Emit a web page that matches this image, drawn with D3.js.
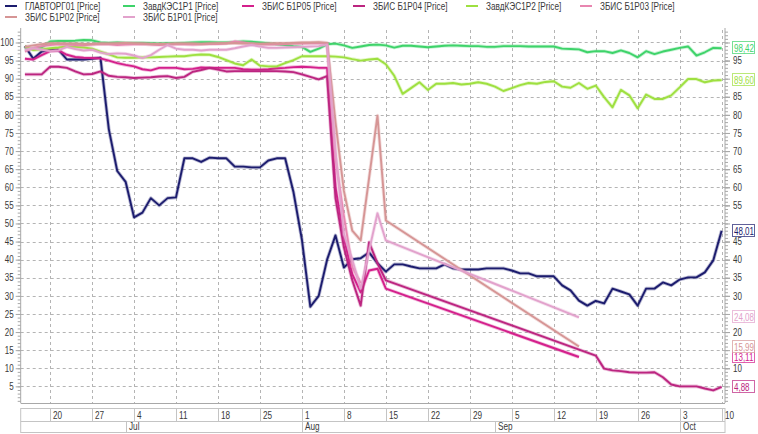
<!DOCTYPE html>
<html><head><meta charset="utf-8">
<script src="https://cdn.jsdelivr.net/npm/d3@7"></script>
<style>body{margin:0;background:#fff}svg{display:block;font-family:"Liberation Sans",Arial,sans-serif}</style>
</head><body><svg id="c" width="758" height="434"></svg>
<script>
// ---- categories: trading days (weekdays) ----
const firstDay = new Date(2022, 5, 15), lastDay = new Date(2022, 9, 10);
const days = d3.timeDay.range(firstDay, d3.timeDay.offset(lastDay, 1)).filter(d => d.getDay() % 6 !== 0);

// ---- series ----
const seriesNames = ["ГЛАВТОРГ01 [Price]", "ЗавдКЭС1Р1 [Price]", "ЗБИС Б1Р05 [Price]", "ЗБИС Б1Р04 [Price]",
  "ЗавдКЭС1Р2 [Price]", "ЗБИС Б1Р03 [Price]", "ЗБИС Б1Р02 [Price]", "ЗБИС Б1Р01 [Price]"];
const seriesColors = ["#1c1c6e", "#3ed36a", "#d4208c", "#bc2580", "#9ee040", "#e886b0", "#d69595", "#e2a2cc"];
const n = null;
const glavtorg01 = [99,95.5,97.5,98,98,95.3,95.3,95.3,95.5,95.8, 76,64.5,61.5,51.7,53,57,55,57,57.2,68,
  68,67,68.2,68,68,65.7,65.7,65.5,65.5,67.4, 68,68,58.6,45.5,27,30,40,46.7,37.8,40.1,
  40.4,42,39,36.7,38.7,38.7,38.1,37.6,37.6,37.6, 38.7,37.6,37.3,37.3,37.3,37.6,37.6,37.6,37,36.2,
  36.2,35.4,35.4,35.4,32.9,31.5,28.7,27.3,28.6,27.9, 32,31.2,30.4,27.3,32,32,33.7,32.9,34.5,35.1,
  35.1,36.5,39.8,48.01];
const zavdKES1R1 = [98.2,98.3,98.6,100.3,100.4,100.4,100.5,100.7,100.6,100, 99.9,100,99.9,99.9,99.9,99.8,99.7,99.8,99.8,99.9,
  100,100.1,100.1,100,100,100.1,100.3,100.2,100,99.8, 99.5,99.3,99,98.8,97.4,98.3,99.5,99.7,99.2,98.5,
  98.9,99.3,99.4,99.2,98.6,99.1,99.1,98.9,98.7,98.9, 99.1,99.2,99.1,99,99,98.8,98.8,99,99,99,
  98.9,98.9,98.9,98.9,98.3,98.2,98.1,97.3,97.6,97.6, 97.1,97.8,97.1,95.9,97.6,96.8,97.5,98,98.5,98.9,
  96.4,97.3,98.5,98.42];
const bis1R05 = [95.5,95.3,96.5,97.6,97.8,96.6,96,95.8,95.7,95.6, 95,94.3,93.8,93.4,92.6,92.3,93,93,93,92.6,
  92.7,93.1,93,93,93,93,92.6,92.5,92.5,92.6, 92.9,93,93.2,93.3,93.2,93,93,60,46,36,
  31,37,37.5,32,n,n,n,n,n,n, n,n,n,n,n,n,n,n,n,n,
  n,n,n,n,n,n,13.11,n,n,n, n,n,n,n,n,n,n,n,n,n,
  n,n,n,n];
const bis1R04 = [91.2,91.2,91.2,93.3,93.3,93,92,91.2,91.3,92, 90.8,90.5,90.4,90.2,90.3,90.4,90.6,90.7,90.2,90.5,
  91.9,92.4,93,92.5,92,92.1,92.1,92.1,92.1,92.1, 92.1,92,91.8,91.2,90.5,89.8,90.7,57,43.4,34.3,
  27.3,44.8,39,34.3,n,n,n,n,n,n, n,n,n,n,n,n,n,n,n,n,
  n,n,n,n,n,n,n,n,13.5,9.9, 9.4,9.2,8.9,8.8,8.8,8.9,7.5,5.5,5,5,
  5,4.4,3.9,4.88];
const zavdKES1R2 = [98.9,97.9,98.1,98.4,98.6,98.9,98.8,98.6,98.3,97.5, 96.7,95.9,95.8,95.8,95.9,95.9,96,96.1,96.2,96.2,
  96.5,96.7,96.6,96,95.1,94.2,93.7,95.3,93.6,93.4, 93.4,94.3,95.1,96.2,96.2,96.2,96.2,96.1,95.9,95.4,
  95,95.3,95.5,94,90.8,85.8,87.4,89,86.9,88.6, 88.6,88.8,88.4,88.6,89,88.6,87.8,86.6,87.4,88.2,
  88.8,88.6,89.1,89.3,87.8,87.5,88.8,87.2,88.1,84.9, 82.1,86.9,85.4,81.8,85.6,84.4,84.4,85.4,87.6,89.9,
  89.9,89,89.5,89.6];
const bis1R03 = [97.5,98.5,99,99.3,99.5,99.4,99.3,99.2,99.4,99.6, 99.5,99.3,99.4,99.5,99.6,99.4,99.3,99.4,99.5,99.5,
  99.4,99.5,99.6,99.6,99.7,100.3,100,99.6,99.5,99.4, 99.5,99.6,99.7,99.7,99.8,99.8,99.7,68,52,38,
  33.5,n,n,n,n,n,n,n,n,n, n,n,n,n,n,n,n,n,n,n,
  n,n,n,n,n,n,n,n,n,n, n,n,n,n,n,n,n,n,n,n,
  n,n,n,n];
const bis1R02 = [98.8,99.2,99.5,99.8,99.8,99.7,99.7,99.6,99.6,99.7, 99.7,99.8,99.9,99.8,99.7,99.6,99.6,99.6,99.7,99.7,
  99.7,99.6,99.7,99.8,99.8,99.8,99.7,99.7,99.6,99.7, 99.8,99.8,99.9,100,100,100.1,99.9,78,59,48,
  45.3,62.5,79.8,50.8,n,n,n,n,n,n, n,n,n,n,n,n,n,n,n,n,
  n,n,n,n,n,n,15.99,n,n,n, n,n,n,n,n,n,n,n,n,n,
  n,n,n,n];
const bis1R01 = [98,98.4,98,97.6,97.8,98.8,98.2,97.8,98,97.2, 96.8,97,96.9,96.4,95.7,96.5,98,99.3,98.3,98,
  98,97.8,98,98,98,98.4,98.9,99.3,98.9,98.5, 98.5,98.6,98.7,98.8,98.9,99,99.4,70,47,40,
  32,42.5,52.8,45.3,n,n,n,n,n,n, n,n,n,n,n,n,n,n,n,n,
  n,n,n,n,n,n,24.08,n,n,n, n,n,n,n,n,n,n,n,n,n,
  n,n,n,n];
const seriesValues = [glavtorg01, zavdKES1R1, bis1R05, bis1R04, zavdKES1R2, bis1R03, bis1R02, bis1R01];
const yTicks = d3.range(5, 101, 5);

// ---- layout ----
const svg = d3.select("#c");
const L = 20.7, R = 725, T = 30, B = 403;
const x = d3.scaleLinear().domain([-0.5, 83.4]).range([L, R]);
const y = d3.scaleLinear().domain([0.4, 103.45]).range([B, T]);
const txt = "#3a3a3a", axisCol = "#a8a8a8", gridCol = "#b4b4b4";

function condense(sel, f) {
  sel.each(function () {
    const w = this.getComputedTextLength();
    if (w > 0) { this.setAttribute("textLength", (w * f).toFixed(2)); this.setAttribute("lengthAdjust", "spacingAndGlyphs"); }
  });
}

// last values (for right-axis value boxes)
const lastVals = seriesValues.map((vals, k) => {
  const lastI = d3.max(vals.map((v, i) => v != null ? i : -1));
  return { k, i: lastI, v: vals[lastI] };
}).filter(d => d.i >= 60);

// grid
const weekIdx = days.map((d, i) => i).filter(i => days[i].getDay() === 1);
svg.append("g").selectAll("line").data(yTicks).join("line")
  .attr("x1", L).attr("x2", R).attr("y1", d => Math.round(y(d)) + 0.5).attr("y2", d => Math.round(y(d)) + 0.5)
  .attr("stroke", gridCol).attr("stroke-dasharray", "3,3");
svg.append("g").selectAll("line").data(weekIdx).join("line")
  .attr("x1", i => Math.round(x(i)) + 0.5).attr("x2", i => Math.round(x(i)) + 0.5).attr("y1", T).attr("y2", B)
  .attr("stroke", gridCol).attr("stroke-dasharray", "3,3");

// axes lines
svg.append("line").attr("x1", L).attr("x2", L).attr("y1", T - 2).attr("y2", B).attr("stroke", axisCol);
svg.append("line").attr("x1", R).attr("x2", R).attr("y1", T - 2).attr("y2", B).attr("stroke", axisCol);
svg.append("line").attr("x1", L).attr("x2", R).attr("y1", B + 0.5).attr("y2", B + 0.5).attr("stroke", axisCol);

// left & right axes via d3 axes (right labels hidden under value boxes are left out)
const rightTicks = yTicks.filter(t => d3.min(lastVals, d => Math.abs(y(t) - y(d.v))) >= 9);
const minor = d3.range(1, 104, 1);
const leftMinor = d3.axisLeft(y).tickValues(minor).tickSize(3).tickFormat("");
const rightMinor = d3.axisRight(y).tickValues(minor).tickSize(3).tickFormat("");
const leftAx = d3.axisLeft(y).tickValues(yTicks).tickSize(5).tickPadding(2).tickFormat(d3.format("d"));
const rightAxT = d3.axisRight(y).tickValues(yTicks).tickSize(5).tickFormat("");
const rightAx = d3.axisRight(y).tickValues(rightTicks).tickSize(5).tickPadding(3).tickFormat(d3.format("d"));
[[leftMinor, L], [rightMinor, R], [leftAx, L], [rightAxT, R], [rightAx, R]].forEach(([ax, px]) => {
  const g = svg.append("g").attr("transform", `translate(${px},0)`).call(ax);
  g.select(".domain").remove();
  g.selectAll("line").attr("stroke", axisCol);
  g.selectAll("text").attr("fill", txt).style("font-size", "10px").attr("font-family", "Liberation Sans, Arial, sans-serif");
  condense(g.selectAll("text"), 0.8);
});

// date axis
const rowTop = 408, rowMid = 421, rowBot = 432;
const dAx = svg.append("g");
dAx.append("rect").attr("x", L).attr("y", rowTop + 0.5).attr("width", R - L).attr("height", rowBot - rowTop)
  .attr("fill", "none").attr("stroke", "#c4c4c4");
dAx.append("line").attr("x1", L).attr("x2", R).attr("y1", rowMid + 0.5).attr("y2", rowMid + 0.5).attr("stroke", "#c4c4c4");
dAx.selectAll(".wk").data(weekIdx).join("line")
  .attr("x1", i => Math.round(x(i)) + 0.5).attr("x2", i => Math.round(x(i)) + 0.5).attr("y1", rowTop).attr("y2", rowMid)
  .attr("stroke", "#c4c4c4");
const wkLabels = dAx.selectAll(".wkl").data(weekIdx).join("text")
  .attr("x", i => Math.round(x(i)) + 3).attr("y", 418.5).text(i => days[i].getDate())
  .attr("fill", txt).style("font-size", "10px");
condense(wkLabels, 0.82);
const monthIdx = days.map((d, i) => i).filter(i => i > 0 && days[i].getMonth() !== days[i - 1].getMonth());
dAx.selectAll(".mo").data(monthIdx).join("line")
  .attr("x1", i => Math.round(x(i)) + 0.5).attr("x2", i => Math.round(x(i)) + 0.5).attr("y1", rowMid).attr("y2", rowBot)
  .attr("stroke", "#c4c4c4");
const moLabels = dAx.selectAll(".mol").data(monthIdx).join("text")
  .attr("x", i => Math.round(x(i)) + 3).attr("y", 430).text(i => d3.timeFormat("%b")(days[i]))
  .attr("fill", txt).style("font-size", "10px");
condense(moLabels, 0.82);

// lines
const line = d3.line().x(d => x(d[0])).y(d => y(d[1]));
seriesValues.forEach((vals, k) => {
  const pts = vals.map((v, i) => [i, v]).filter(d => d[1] != null);
  svg.append("path").attr("d", line(pts)).attr("fill", "none").attr("stroke", seriesColors[k])
    .attr("stroke-opacity", 0.3).attr("stroke-width", 3.6).attr("stroke-linejoin", "round");
  svg.append("path").attr("d", line(pts)).attr("fill", "none").attr("stroke", seriesColors[k])
    .attr("stroke-width", 1.9).attr("stroke-linejoin", "round");
});

// last-value labels on right axis
const fmt = v => d3.format(".2f")(v).replace(".", ",");
lastVals.forEach(({ k, v }) => {
  const cy = Math.round(y(v));
  const g = svg.append("g");
  g.append("rect").attr("x", 732.5).attr("y", cy - 6.5).attr("width", 22).attr("height", 12)
    .attr("fill", "#fff").attr("stroke", seriesColors[k]).attr("stroke-opacity", 0.7);
  const t = g.append("text").attr("x", 734).attr("y", cy + 3.5).text(fmt(v))
    .attr("fill", seriesColors[k]).style("font-size", "10px");
  condense(t, 0.8);
});

// legend
const legendPos = [[25, 6], [143, 6], [262, 6], [373, 6], [486, 6], [600, 6], [25, 17], [143, 17]];
seriesNames.forEach((name, k) => {
  const [tx, ty] = legendPos[k];
  svg.append("line").attr("x1", tx - 20).attr("x2", tx - 8).attr("y1", ty).attr("y2", ty)
    .attr("stroke", seriesColors[k]).attr("stroke-width", 2);
  const t = svg.append("text").attr("x", tx).attr("y", ty + 3.5).text(name).attr("fill", txt).style("font-size", "10px");
  condense(t, 0.82);
});
</script></body></html>
